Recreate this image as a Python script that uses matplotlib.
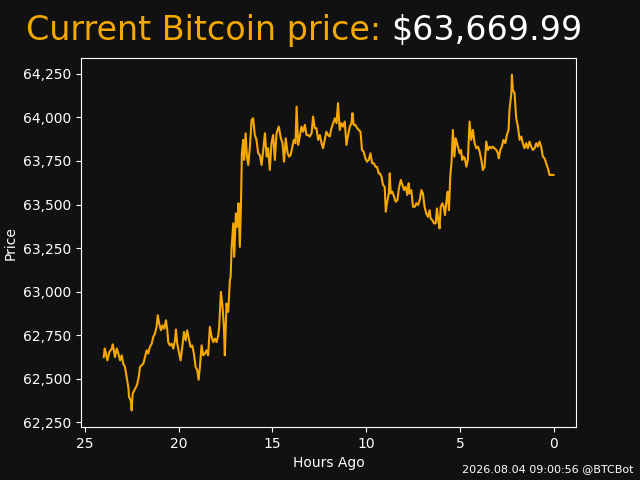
import numpy as np
import matplotlib
matplotlib.use("Agg")
import matplotlib.pyplot as plt
from matplotlib.ticker import MultipleLocator, StrMethodFormatter

BG = "#111111"
ORANGE = "#f5a800"

current_price = "$63,669.99"
stamp = "2026.08.04 09:00:56 @BTCBot"

# hours before now
hours_ago = [
    24.00, 23.95, 23.88, 23.81, 23.70, 23.57, 23.52, 23.45, 23.40, 23.31,
    23.22, 23.13, 23.04, 22.96, 22.87, 22.78, 22.69, 22.65, 22.56, 22.51,
    22.46, 22.37, 22.28, 22.21, 22.12, 22.07, 21.98, 21.89, 21.80, 21.71,
    21.63, 21.54, 21.44, 21.36, 21.27, 21.18, 21.12, 21.04, 20.95, 20.86,
    20.77, 20.68, 20.61, 20.56, 20.47, 20.38, 20.29, 20.20, 20.15, 20.08,
    19.99, 19.90, 19.81, 19.72, 19.63, 19.55, 19.46, 19.37, 19.28, 19.19,
    19.10, 19.01, 18.94, 18.87, 18.78, 18.69, 18.60, 18.51, 18.43, 18.34,
    18.24, 18.16, 18.07, 17.98, 17.89, 17.84, 17.75, 17.66, 17.59, 17.54,
    17.45, 17.36, 17.27, 17.23, 17.18, 17.09, 17.04, 16.95, 16.88, 16.81,
    16.74, 16.68, 16.63, 16.56, 16.51, 16.43, 16.36, 16.29, 16.20, 16.11,
    16.03, 15.94, 15.85, 15.76, 15.67, 15.58, 15.49, 15.40, 15.31, 15.23,
    15.14, 15.05, 14.96, 14.87, 14.78, 14.66, 14.55, 14.46, 14.38, 14.29,
    14.19, 14.11, 14.03, 13.95, 13.86, 13.77, 13.71, 13.63, 13.54, 13.45,
    13.36, 13.27, 13.18, 13.10, 13.01, 12.91, 12.83, 12.74, 12.65, 12.56,
    12.47, 12.38, 12.30, 12.21, 12.12, 12.03, 11.94, 11.85, 11.76, 11.67,
    11.58, 11.50, 11.41, 11.32, 11.23, 11.14, 11.05, 10.96, 10.87, 10.78,
    10.73, 10.66, 10.57, 10.48, 10.39, 10.30, 10.22, 10.13, 10.04, 9.95,
    9.86, 9.77, 9.68, 9.59, 9.50, 9.42, 9.33, 9.27, 9.18, 9.10,
    9.01, 8.95, 8.89, 8.79, 8.74, 8.69, 8.60, 8.51, 8.42, 8.33,
    8.25, 8.15, 8.06, 7.98, 7.89, 7.80, 7.73, 7.68, 7.59, 7.50,
    7.41, 7.32, 7.23, 7.14, 7.05, 6.97, 6.88, 6.79, 6.70, 6.61,
    6.56, 6.47, 6.38, 6.29, 6.22, 6.15, 6.08, 6.02, 5.93, 5.86,
    5.79, 5.72, 5.65, 5.58, 5.51, 5.44, 5.37, 5.29, 5.22, 5.15,
    5.08, 5.01, 4.94, 4.87, 4.80, 4.73, 4.65, 4.57, 4.48, 4.39,
    4.30, 4.21, 4.12, 4.03, 3.94, 3.85, 3.77, 3.68, 3.59, 3.50,
    3.41, 3.32, 3.24, 3.15, 3.05, 2.97, 2.92, 2.84, 2.76, 2.67,
    2.57, 2.49, 2.40, 2.35, 2.25, 2.22, 2.17, 2.08, 1.99, 1.90,
    1.81, 1.72, 1.64, 1.55, 1.46, 1.37, 1.28, 1.19, 1.10, 1.01,
    0.92, 0.84, 0.75, 0.66, 0.57, 0.48, 0.39, 0.30, 0.21, 0.12,
    0.00,
]

prices = [
    62625, 62674, 62645, 62606, 62654, 62674, 62698, 62654, 62625, 62674,
    62645, 62606, 62635, 62587, 62568, 62510, 62453, 62395, 62376, 62319,
    62415, 62434, 62453, 62472, 62520, 62568, 62578, 62587, 62625, 62664,
    62645, 62683, 62702, 62740, 62760, 62798, 62865, 62817, 62779, 62807,
    62788, 62836, 62779, 62711, 62692, 62702, 62674, 62721, 62783, 62702,
    62654, 62606, 62683, 62769, 62721, 62779, 62731, 62683, 62692, 62645,
    62568, 62549, 62495, 62568, 62692, 62635, 62645, 62664, 62635, 62798,
    62740, 62711, 62731, 62711, 62750, 62798, 62999, 62913, 62798, 62635,
    62932, 62884, 63066, 63085, 63248, 63392, 63200, 63449, 63372, 63507,
    63257, 63487, 63794, 63871, 63756, 63909, 63775, 63727, 63832, 63986,
    63995, 63899, 63871, 63794, 63784, 63727, 63813, 63909, 63775, 63823,
    63698, 63852, 63899, 63756, 63909, 63947, 63880, 63852, 63746, 63880,
    63794, 63775, 63784, 63823, 63871, 63852, 64062, 63842, 63890, 63947,
    63918, 63957, 63899, 63899, 63890, 63909, 64005, 63938, 63938, 63871,
    63899, 63852, 63823, 63871, 63918, 63899, 63890, 63938, 63967, 63995,
    63967, 64082, 63928, 63967, 63947, 63976, 63842, 63899, 63947, 63967,
    64024, 63957, 63957, 63938, 63928, 63918, 63813, 63803, 63765, 63746,
    63756, 63794, 63737, 63737, 63717, 63717, 63679, 63679, 63660, 63612,
    63602, 63459, 63507, 63564, 63679, 63564, 63574, 63545, 63516, 63526,
    63593, 63641, 63612, 63583, 63602, 63555, 63622, 63564, 63583, 63487,
    63487, 63507, 63497, 63526, 63583, 63564, 63487, 63449, 63430, 63468,
    63421, 63411, 63392, 63392, 63478, 63411, 63363, 63487, 63507, 63487,
    63440, 63516, 63574, 63468, 63660, 63746, 63928, 63775, 63880, 63852,
    63823, 63794, 63813, 63756, 63775, 63765, 63717, 63756, 63976, 63871,
    63928, 63852, 63823, 63832, 63803, 63756, 63698, 63717, 63861, 63813,
    63832, 63823, 63832, 63823, 63813, 63794, 63765, 63813, 63832, 63871,
    63852, 63899, 63928, 64043, 64139, 64244, 64158, 64139, 63995, 63947,
    63871, 63890, 63852, 63823, 63852, 63823, 63861, 63832, 63813, 63823,
    63852, 63832, 63861, 63832, 63775, 63765, 63737, 63708, 63669, 63670,
    63669.99,
]

fig = plt.figure(figsize=(6.4, 4.8), dpi=100, facecolor=BG)
ax = fig.add_axes([0.127, 0.110, 0.773, 0.769], facecolor=BG)

ax.plot(hours_ago, prices, color=ORANGE, linewidth=1.5)
ax.invert_xaxis()

ax.yaxis.set_major_locator(MultipleLocator(250))
ax.yaxis.set_major_formatter(StrMethodFormatter("{x:,.0f}"))
ax.xaxis.set_major_locator(MultipleLocator(5))

ax.set_xlabel("Hours Ago", color="white")
ax.set_ylabel("Price", color="white")
ax.tick_params(colors="white")
for s in ax.spines.values():
    s.set_color("white")

fig.text(26 / 640, 0.917, "Current Bitcoin price: ", color=ORANGE,
         fontsize=24, ha="left", va="baseline")
fig.text(391 / 640, 0.917, current_price, color="white",
         fontsize=24, ha="left", va="baseline")
fig.text(0.99, 0.012, stamp, color="white", fontsize=8,
         ha="right", va="bottom")

fig.savefig("out.png", dpi=100, facecolor=BG)
